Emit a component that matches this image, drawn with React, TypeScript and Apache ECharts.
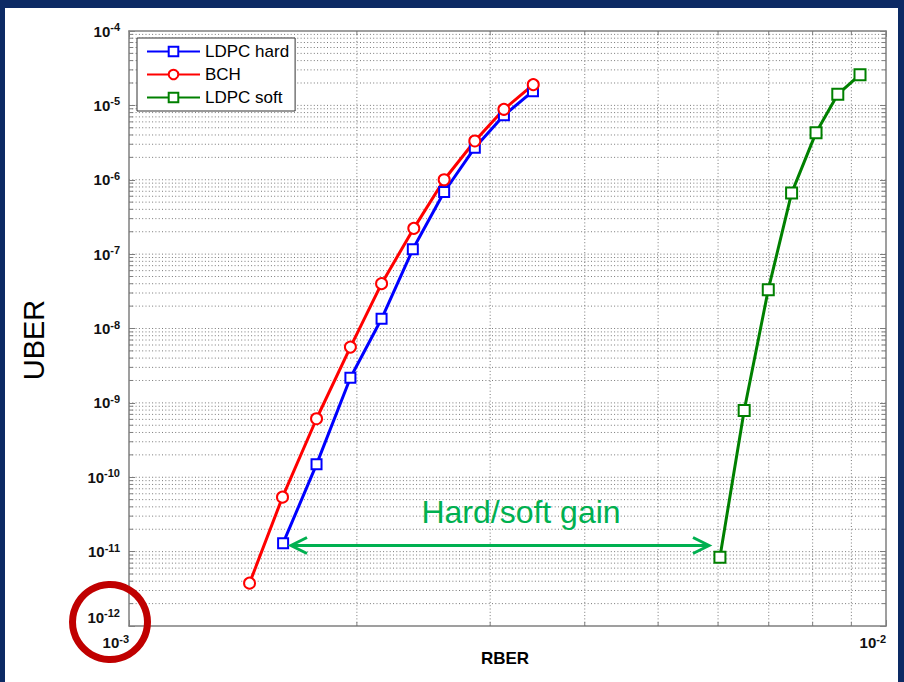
import React, { useEffect, useRef } from "react";
import * as echarts from "echarts";

// ---- data ----
const seriesNames = ["LDPC hard", "BCH", "LDPC soft"];
const rberHard = [1.598e-3, 1.769e-3, 1.961e-3, 2.156e-3, 2.371e-3, 2.608e-3, 2.863e-3, 3.128e-3, 3.417e-3];
const uberHard = [1.3e-11, 1.49e-10, 2.18e-9, 1.35e-8, 1.16e-7, 6.84e-7, 2.7e-6, 7.35e-6, 1.55e-5];
const rberBch = [1.443e-3, 1.595e-3, 1.769e-3, 1.961e-3, 2.156e-3, 2.378e-3, 2.608e-3, 2.863e-3, 3.128e-3, 3.42e-3];
const uberBch = [3.77e-12, 5.4e-11, 6.12e-10, 5.62e-9, 4.01e-8, 2.22e-7, 1.0e-6, 3.32e-6, 8.85e-6, 1.9e-5];
const rberSoft = [6.034e-3, 6.496e-3, 6.99e-3, 7.504e-3, 8.083e-3, 8.636e-3, 9.24e-3];
const uberSoft = [8.42e-12, 7.91e-10, 3.33e-8, 6.62e-7, 4.3e-6, 1.41e-5, 2.59e-5];
const xDecades = [-3, -2];
const yDecades = [-12, -11, -10, -9, -8, -7, -6, -5, -4];
const minorMultipliers = [2, 3, 4, 5, 6, 7, 8, 9];
const annotationText = "Hard/soft gain";
const xName = "RBER";
const yName = "UBER";

const NAVY = "#0c2a64";
const GREEN_NOTE = "#00b050";
const AXIS_GRAY = "#7f7f7f";
const GRID_GRAY = "#787878";

function pairs(xs: number[], ys: number[]) {
  return xs.map((x, i) => [x, ys[i]]);
}

function expLabel(value: number) {
  const e = Math.round(Math.log10(value));
  if (e === -12) return `{b2|10}{s2|${e}}`;
  return `{b|10}{s|${e}}`;
}

const FONT = "Arial, Liberation Sans";
const labelRich = {
  b: { fontSize: 15, fontWeight: "bold", fontFamily: FONT, color: "#111" },
  s: { fontSize: 11, fontWeight: "bold", fontFamily: FONT, color: "#111", padding: [0, 0, 8, 0] },
  b2: { fontSize: 15, fontWeight: "bold", fontFamily: FONT, color: "#111", padding: [0, 0, 18, 0] },
  s2: { fontSize: 11, fontWeight: "bold", fontFamily: FONT, color: "#111", padding: [0, 0, 26, 0] },
};

export default function App() {
  const ref = useRef<HTMLDivElement>(null);

  useEffect(() => {
    if (!ref.current) return;
    const chart = echarts.init(ref.current, undefined, { renderer: "svg" });

    const xMin = Math.pow(10, xDecades[0]);
    const xMax = Math.pow(10, xDecades[xDecades.length - 1]);
    const yMin = Math.pow(10, yDecades[0]);
    const yMax = Math.pow(10, yDecades[yDecades.length - 1]);

    // grid line definitions: [x, y, orientation(0 = vertical, 1 = horizontal), isMinor]
    const gridData: number[][] = [];
    for (let i = 0; i < xDecades.length - 1; i++) {
      const base = Math.pow(10, xDecades[i]);
      minorMultipliers.forEach((m) => gridData.push([base * m, yMin, 0, 1]));
    }
    for (let i = 0; i < yDecades.length - 1; i++) {
      const base = Math.pow(10, yDecades[i]);
      if (i > 0) gridData.push([xMin, base, 1, 0]);
      minorMultipliers.forEach((m) => gridData.push([xMin, base * m, 1, 1]));
    }

    const commonX = {
      type: "log",
      logBase: 10,
      min: xMin,
      max: xMax,
      axisLine: { show: true, onZero: false, lineStyle: { color: AXIS_GRAY, width: 1.5 } },
      axisTick: { show: true, inside: true, length: 6, lineStyle: { color: AXIS_GRAY, width: 1 } },
      splitLine: { show: false },
    };
    const commonY = {
      type: "log",
      logBase: 10,
      min: yMin,
      max: yMax,
      axisLine: { show: true, onZero: false, lineStyle: { color: AXIS_GRAY, width: 1.5 } },
      axisTick: { show: true, inside: true, length: 6, lineStyle: { color: AXIS_GRAY, width: 1 } },
      splitLine: { show: false },
    };

    const mkSeries = (name: string, data: number[][], color: string, symbol: string, size: number) => ({
      name,
      type: "line",
      data,
      z: 3,
      symbol,
      symbolSize: size,
      showSymbol: true,
      lineStyle: { color, width: 3 },
      itemStyle: { color, borderColor: color, borderWidth: 2.5 },
      emphasis: { disabled: true },
    });

    const gridSeries = {
      name: "grid",
      type: "custom",
      z: 1,
      silent: true,
      clip: false,
      encode: { x: 0, y: 1 },
      data: gridData,
      renderItem: (_params: any, api: any) => {
        const orient = api.value(2);
        const minor = api.value(3);
        let a: number[];
        let b: number[];
        if (orient === 0) {
          const v = api.value(0);
          a = api.coord([v, yMin]);
          b = api.coord([v, yMax]);
        } else {
          const v = api.value(1);
          a = api.coord([xMin, v]);
          b = api.coord([xMax, v]);
        }
        const children: any[] = [
          {
            type: "line",
            shape: { x1: a[0], y1: a[1], x2: b[0], y2: b[1] },
            style: { stroke: GRID_GRAY, lineWidth: 1, lineDash: [1, 2.3] },
          },
        ];
        if (minor) {
          const tick = { stroke: AXIS_GRAY, lineWidth: 1 };
          if (orient === 0) {
            children.push({ type: "line", shape: { x1: a[0], y1: a[1], x2: a[0], y2: a[1] - 4 }, style: tick });
            children.push({ type: "line", shape: { x1: b[0], y1: b[1], x2: b[0], y2: b[1] + 4 }, style: tick });
          } else {
            children.push({ type: "line", shape: { x1: a[0], y1: a[1], x2: a[0] + 4, y2: a[1] }, style: tick });
            children.push({ type: "line", shape: { x1: b[0], y1: b[1], x2: b[0] - 4, y2: b[1] }, style: tick });
          }
        }
        return { type: "group", children };
      },
    };

    chart.setOption({
      animation: false,
      backgroundColor: "#ffffff",
      grid: { left: 124, right: 12, top: 23, bottom: 56, containLabel: false },
      legend: {
        data: seriesNames,
        orient: "vertical",
        left: 132,
        top: 30,
        padding: [5, 6, 5, 9],
        itemWidth: 53,
        itemHeight: 12,
        itemGap: 6,
        backgroundColor: "#ffffff",
        borderColor: "#333333",
        borderWidth: 1,
        textStyle: { fontSize: 17, fontFamily: FONT, color: "#000" },
        z: 10,
      },
      xAxis: [
        {
          ...commonX,
          position: "bottom",
          axisLabel: { formatter: expLabel, rich: labelRich, align: "right", margin: 7 },
        },
        { ...commonX, position: "top", axisLabel: { show: false } },
      ],
      yAxis: [
        {
          ...commonY,
          position: "left",
          axisLabel: { formatter: expLabel, rich: labelRich, margin: 9 },
        },
        { ...commonY, position: "right", axisLabel: { show: false } },
      ],
      series: [
        gridSeries,
        mkSeries(seriesNames[0], pairs(rberHard, uberHard), "#0000ff", "emptyRect", 10),
        mkSeries(seriesNames[1], pairs(rberBch, uberBch), "#ff0000", "emptyCircle", 11),
        mkSeries(seriesNames[2], pairs(rberSoft, uberSoft), "#008000", "emptyRect", 11),
      ],
      graphic: [
        {
          type: "text",
          x: 29,
          y: 332,
          rotation: Math.PI / 2,
          style: {
            text: yName,
            fontSize: 29,
            fontFamily: FONT,
            fill: "#000",
            align: "center",
            verticalAlign: "middle",
          },
        },
        {
          type: "text",
          x: 500,
          y: 650,
          style: {
            text: xName,
            fontSize: 17,
            fontWeight: "bold",
            fontFamily: FONT,
            fill: "#000",
            align: "center",
            verticalAlign: "middle",
          },
        },
        {
          type: "text",
          x: 516,
          y: 504,
          z: 20,
          style: {
            text: annotationText,
            fontSize: 32,
            fontFamily: FONT,
            fill: GREEN_NOTE,
            align: "center",
            verticalAlign: "middle",
          },
        },
        {
          type: "line",
          z: 20,
          shape: { x1: 286, y1: 537.5, x2: 703, y2: 537.5 },
          style: { stroke: GREEN_NOTE, lineWidth: 3 },
        },
        {
          type: "polyline",
          z: 20,
          shape: { points: [[302, 529.5], [286, 537.5], [302, 545.5]] },
          style: { stroke: GREEN_NOTE, lineWidth: 3, fill: "none" },
        },
        {
          type: "polyline",
          z: 20,
          shape: { points: [[688, 529.5], [704, 537.5], [688, 545.5]] },
          style: { stroke: GREEN_NOTE, lineWidth: 3, fill: "none" },
        },
        {
          type: "circle",
          z: 30,
          shape: { cx: 105, cy: 614, r: 37.5 },
          style: { stroke: "#c00000", lineWidth: 7, fill: "none" },
        },
      ],
    });

    return () => chart.dispose();
  }, []);

  return (
    <div
      style={{
        position: "fixed",
        left: 0,
        top: 0,
        width: 904,
        height: 682,
        background: NAVY,
        overflow: "hidden",
      }}
    >
      <div
        ref={ref}
        style={{ position: "absolute", left: 5, top: 8, width: 893, height: 674, background: "#fff" }}
      />
    </div>
  );
}
